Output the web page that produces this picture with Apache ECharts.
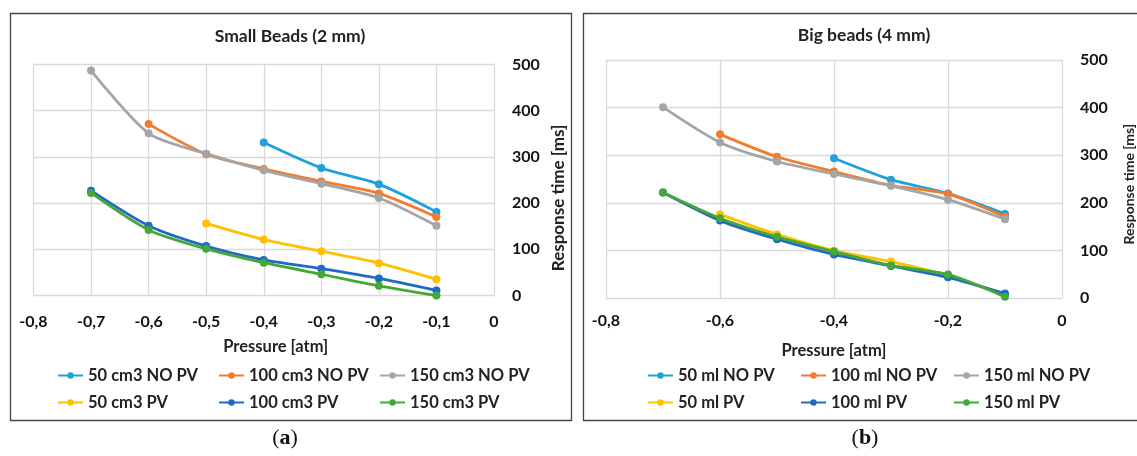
<!DOCTYPE html>
<html>
<head>
<meta charset="utf-8">
<script src="https://cdn.jsdelivr.net/npm/echarts@6/dist/echarts.min.js"></script>
<style>
html,body{margin:0;padding:0;background:#fff;}
#chart{width:1137px;height:456px;}
</style>
</head>
<body>
<div id="chart"></div>
<script>
// ---- data ----
var pressure = [-0.7, -0.6, -0.5, -0.4, -0.3, -0.2, -0.1];

// Panel (a): Small beads (2 mm)
var smallNames = ['50 cm3 NO PV', '100 cm3 NO PV', '150 cm3 NO PV', '50 cm3 PV', '100 cm3 PV', '150 cm3 PV'];
var small50NoPV  = [null, null, null, 331, 276, 241, 181];
var small100NoPV = [null, 371, 306, 274, 247, 221, 170];
var small150NoPV = [487, 351, 307, 271, 242, 211, 151];
var small50PV    = [null, null, 156, 121, 96, 70, 35];
var small100PV   = [227, 151, 107, 77, 58, 37, 11];
var small150PV   = [222, 142, 101, 71, 46, 21, 0];

// Panel (b): Big beads (4 mm)
var bigNames = ['50 ml NO PV', '100 ml NO PV', '150 ml NO PV', '50 ml PV', '100 ml PV', '150 ml PV'];
var big50NoPV  = [null, null, null, 294, 249, 220, 177];
var big100NoPV = [null, 344, 297, 266, 237, 219, 171];
var big150NoPV = [401, 327, 287, 261, 236, 207, 166];
var big50PV    = [null, 176, 134, 100, 77, 48, 6];
var big100PV   = [222, 163, 124, 92, 68, 44, 10];
var big150PV   = [222, 168, 129, 98, 69, 50, 3];

var colors = ['#21A0DB', '#F27B2E', '#A5A5A5', '#FFC000', '#1F6BC4', '#44A838'];

// ---- helpers ----
function pairs(vals) {
  var out = [];
  for (var i = 0; i < pressure.length; i++) {
    if (vals[i] !== null) out.push([pressure[i], vals[i]]);
  }
  return out;
}
function fmtX(v) {
  var s = String(Math.round(v * 10) / 10);
  return s.replace('.', ',');
}
var FONT = 'Lato';
var smallSets = [small50NoPV, small100NoPV, small150NoPV, small50PV, small100PV, small150PV];
var bigSets = [big50NoPV, big100NoPV, big150NoPV, big50PV, big100PV, big150PV];

var series = [];
function addSeries(sets, names, idx) {
  sets.forEach(function (d, i) {
    series.push({
      name: names[i], type: 'line', xAxisIndex: idx, yAxisIndex: idx,
      data: pairs(d), smooth: 0.25, symbol: 'circle', symbolSize: 8,
      itemStyle: { color: colors[i] }, lineStyle: { color: colors[i], width: 2.8 },
      emphasis: { disabled: true }
    });
  });
}
addSeries(smallSets, smallNames, 0);
addSeries(bigSets, bigNames, 1);

function xAxis(gridIndex, interval, nameShift, margin, nameGap) {
  return {
    type: 'value', gridIndex: gridIndex, min: -0.8, max: 0, interval: interval,
    name: 'Pressure [atm]', nameLocation: 'middle', nameGap: nameGap,
    nameTextStyle: { fontFamily: FONT, fontWeight: 'bold', fontSize: 16.5, color: '#222',
      padding: [0, 0, 0, nameShift] },
    axisLine: { show: false }, axisTick: { show: false },
    axisLabel: { formatter: fmtX, margin: margin, fontFamily: FONT, fontWeight: 'bold', fontSize: 16, color: '#111' },
    splitLine: { show: true, lineStyle: { color: '#D9D9D9', width: 1.3 } }
  };
}
function yAxis(gridIndex, nameGap, nameSize, namePad) {
  return {
    type: 'value', gridIndex: gridIndex, position: 'right', min: 0, max: 500, interval: 100,
    name: 'Response time [ms]', nameLocation: 'middle', nameGap: nameGap, nameRotate: 90,
    nameTextStyle: { fontFamily: FONT, fontWeight: 'bold', fontSize: nameSize, color: '#222',
      padding: [0, namePad, 0, 0] },
    axisLine: { show: false }, axisTick: { show: false },
    axisLabel: { margin: 18, fontFamily: FONT, fontWeight: 'bold', fontSize: 16, color: '#111' },
    splitLine: { show: true, lineStyle: { color: '#D9D9D9', width: 1.3 } }
  };
}
function legend(names, left, textW) {
  return {
    data: names, left: left, top: 367, padding: 0, width: 3 * (25 + 5 + textW + 10) - 5,
    orient: 'horizontal', itemWidth: 25, itemHeight: 8, itemGap: 10,
    textStyle: { fontFamily: FONT, fontWeight: 'bold', fontSize: 16.5, color: '#222', width: textW, lineHeight: 17 },
    selectedMode: false
  };
}
var captionRich = {
  p: { fontFamily: 'Liberation Serif', fontSize: 22, color: '#111', fontWeight: 'normal' },
  b: { fontFamily: 'Liberation Serif', fontSize: 22, color: '#111', fontWeight: 'bold' }
};

var option = {
  animation: false,
  backgroundColor: '#fff',
  title: [
    { text: 'Small Beads (2 mm)', left: 290, top: 27, textAlign: 'center', padding: 0,
      textStyle: { fontFamily: FONT, fontWeight: 'bold', fontSize: 17.5, color: '#222' } },
    { text: 'Big beads (4 mm)', left: 864, top: 26, textAlign: 'center', padding: 0,
      textStyle: { fontFamily: FONT, fontWeight: 'bold', fontSize: 17.5, color: '#222' } },
    { text: '{p|(}{b|a}{p|)}', left: 285, top: 427, textAlign: 'center', padding: 0,
      textStyle: { rich: captionRich } },
    { text: '{p|(}{b|b}{p|)}', left: 865, top: 427, textAlign: 'center', padding: 0,
      textStyle: { rich: captionRich } }
  ],
  grid: [
    { left: 33.5, top: 64.5, width: 460.5, height: 231 },
    { left: 606, top: 60, width: 458.5, height: 238.3 }
  ],
  xAxis: [xAxis(0, 0.1, 24, 18, 43), xAxis(1, 0.2, 0, 15, 44)],
  yAxis: [yAxis(0, 56, 17, 36), yAxis(1, 60, 14, 10)],
  legend: [legend(smallNames, 57, 120), legend(bigNames, 647, 112)],
  graphic: [
    { type: 'rect', shape: { x: 10.5, y: 13.5, width: 561, height: 407 },
      style: { fill: 'none', stroke: '#444', lineWidth: 1.3 }, silent: true },
    { type: 'rect', shape: { x: 583.5, y: 13.5, width: 560, height: 407 },
      style: { fill: 'none', stroke: '#444', lineWidth: 1.3 }, silent: true }
  ],
  series: series
};

var chart = echarts.init(document.getElementById('chart'), null, { renderer: 'canvas' });
chart.setOption(option);
</script>
</body>
</html>
